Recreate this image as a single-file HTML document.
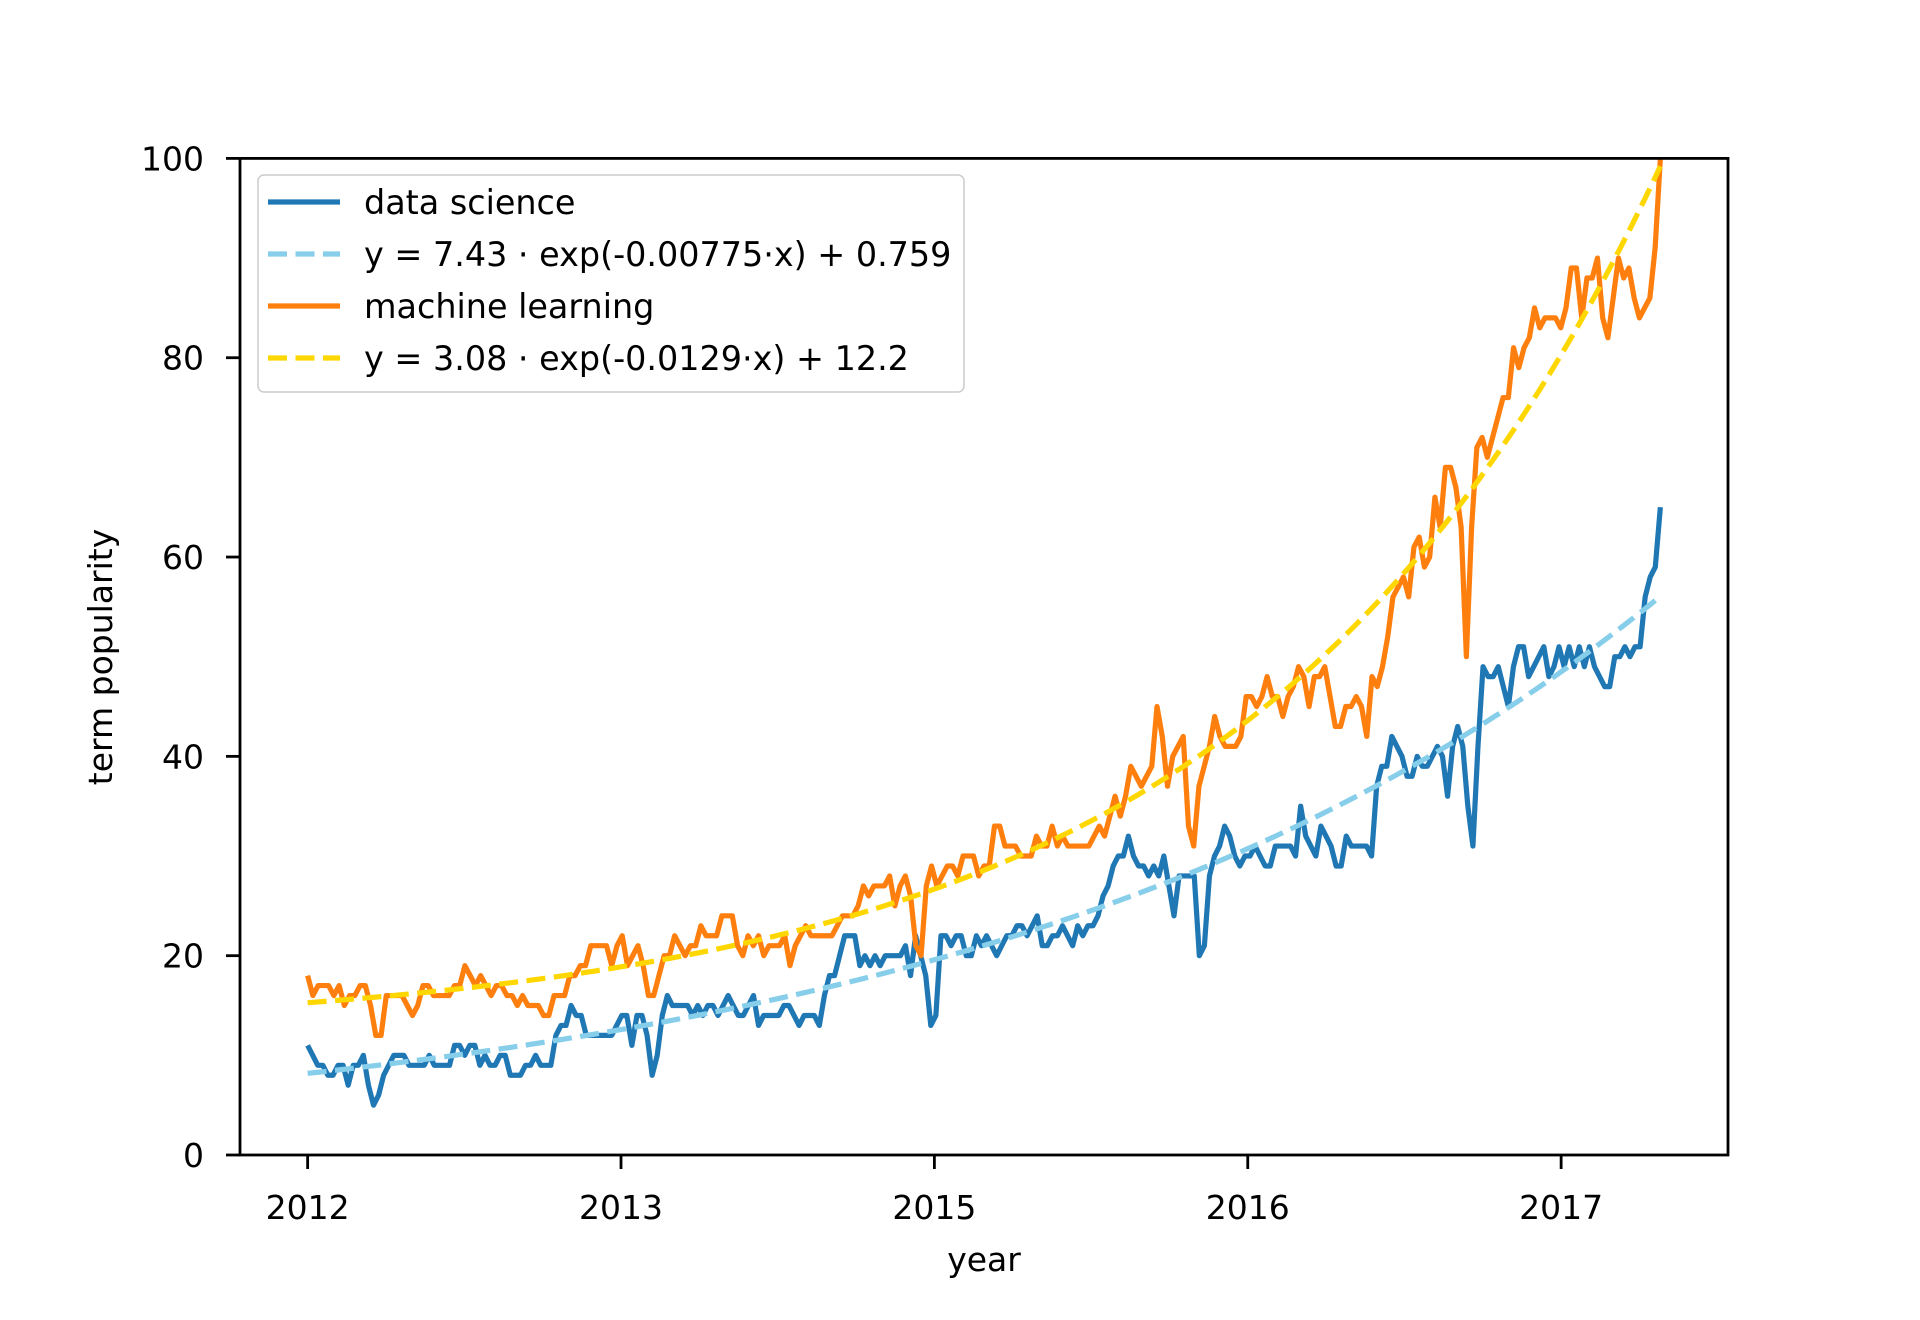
<!DOCTYPE html>
<html><head><meta charset="utf-8"><style>
html,body{margin:0;padding:0;background:#fff;}
svg{display:block;font-family:"DejaVu Sans","Liberation Sans",sans-serif;}
</style></head><body>
<svg id="chart" width="1920" height="1320" viewBox="0 0 1920 1320" xmlns="http://www.w3.org/2000/svg">
<rect width="1920" height="1320" fill="#fff"/>
<g id="plot"></g>
<g id="axes"></g>
<g>
<rect x="258" y="175" width="706" height="217" rx="6" fill="#fff" fill-opacity="0.8" stroke="#ccc" stroke-width="1.5"/>
<line x1="268" y1="202" x2="340" y2="202" stroke="#1f77b4" stroke-width="5.2"/>
<text x="364" y="214" font-size="33.4">data science</text>
<line x1="268" y1="254" x2="340" y2="254" stroke="#87ceeb" stroke-width="5.2" stroke-dasharray="19,8.5"/>
<text x="364" y="266" font-size="33.4">y = 7.43 · exp(-0.00775·x) + 0.759</text>
<line x1="268" y1="306" x2="340" y2="306" stroke="#ff7f0e" stroke-width="5.2"/>
<text x="364" y="318" font-size="33.4">machine learning</text>
<line x1="268" y1="358" x2="340" y2="358" stroke="#ffd700" stroke-width="5.2" stroke-dasharray="19,8.5"/>
<text x="364" y="370" font-size="33.4">y = 3.08 · exp(-0.0129·x) + 12.2</text>
</g>
<text x="984" y="1271" font-size="33" text-anchor="middle">year</text>
<text x="0" y="0" font-size="33" text-anchor="middle" transform="translate(112,657) rotate(-90)">term popularity</text>
</svg>
<script>
const dataScience = [11,10,9,9,8,8,9,9,7,9,9,10,7,5,6,8,9,10,10,10,9,9,9,9,10,9,9,9,9,11,11,10,11,11,9,10,9,9,10,10,8,8,8,9,9,10,9,9,9,12,13,13,15,14,14,12,12,12,12,12,12,13,14,14,11,14,14,12,8,10,14,16,15,15,15,15,14,15,14,15,15,14,15,16,15,14,14,15,16,13,14,14,14,14,15,15,14,13,14,14,14,13,16,18,18,20,22,22,22,19,20,19,20,19,20,20,20,20,21,18,22,20,18,13,14,22,22,21,22,22,20,20,22,21,22,21,20,21,22,22,23,23,22,23,24,21,21,22,22,23,22,21,23,22,23,23,24,26,27,29,30,30,32,30,29,29,28,29,28,30,27,24,28,28,28,28,20,21,28,30,31,33,32,30,29,30,30,31,30,29,29,31,31,31,31,30,35,32,31,30,33,32,31,29,29,32,31,31,31,31,30,37,39,39,42,41,40,38,38,40,39,39,40,41,40,36,41,43,41,35,31,41,49,48,48,49,47,45,49,51,51,48,49,50,51,48,49,51,49,51,49,51,49,51,49,48,47,47,50,50,51,50,51,51,56,58,59,65];
const machineLearning = [18,16,17,17,17,16,17,15,16,16,17,17,15,12,12,16,16,16,16,15,14,15,17,17,16,16,16,16,17,17,19,18,17,18,17,16,17,17,16,16,15,16,15,15,15,14,14,16,16,16,18,18,19,19,21,21,21,21,19,21,22,19,20,21,19,16,16,18,20,20,22,21,20,21,21,23,22,22,22,24,24,24,21,20,22,21,22,20,21,21,21,22,19,21,22,23,22,22,22,22,22,23,24,24,24,25,27,26,27,27,27,28,25,27,28,26,21,20,27,29,27,28,29,29,28,30,30,30,28,29,29,33,33,31,31,31,30,30,30,32,31,31,33,31,32,31,31,31,31,31,32,33,32,34,36,34,36,39,38,37,38,39,45,42,37,40,41,42,33,31,37,39,41,44,42,41,41,41,42,46,46,45,46,48,46,46,44,46,47,49,48,45,48,48,49,46,43,43,45,45,46,45,42,48,47,49,52,56,57,58,56,61,62,59,60,66,63,69,69,67,63,50,63,71,72,70,72,74,76,76,81,79,81,82,85,83,84,84,84,83,85,89,89,84,88,88,90,84,82,86,90,88,89,86,84,85,86,91,100];
const dsFit = [7.43, 0.00775, 0.759];
const mlFit = [3.08, 0.0129, 12.2];
const xTickValues = [0, 60, 120, 180, 240];
const xTickLabels = ["2012", "2013", "2015", "2016", "2017"];
const yTickValues = [0, 20, 40, 60, 80, 100];
const xLast = 259;

const L=240,R=1728,T=158.4,B=1155;
const xMin=-0.05*xLast, xMax=xLast*1.05;
const xs=v=>L+(v-xMin)/(xMax-xMin)*(R-L);
const ys=v=>B-v/100*(B-T);
const NS="http://www.w3.org/2000/svg";
const plot=document.getElementById('plot'), axes=document.getElementById('axes');
function mk(tag,attrs,parent){const e=document.createElementNS(NS,tag);for(const k in attrs)e.setAttribute(k,attrs[k]);parent.appendChild(e);return e;}
const clip=mk('clipPath',{id:'clp'},plot);mk('rect',{x:L,y:T-3,width:R-L,height:B-T+3},clip);
function seriesPath(arr){const n=arr.length;return arr.map((v,i)=>(i?'L':'M')+xs(i*xLast/(n-1)).toFixed(2)+','+ys(v).toFixed(2)).join('');}
function fitPath(p){let d='';for(let x=0;x<=xLast;x++){d+=(x?'L':'M')+xs(x).toFixed(2)+','+ys(p[0]*Math.exp(p[1]*x)+p[2]).toFixed(2);}return d;}
const g=mk('g',{'clip-path':'url(#clp)'},plot);
let p=mk('path',{d:seriesPath(dataScience),fill:'none',stroke:'#1f77b4','stroke-width':5.2,'stroke-linejoin':'round'},g);


p=mk('path',{d:fitPath(dsFit),fill:'none',stroke:'#87ceeb','stroke-width':5.2,'stroke-dasharray':'19,8.5'},g);


p=mk('path',{d:seriesPath(machineLearning),fill:'none',stroke:'#ff7f0e','stroke-width':5.2,'stroke-linejoin':'round'},g);


p=mk('path',{d:fitPath(mlFit),fill:'none',stroke:'#ffd700','stroke-width':5.2,'stroke-dasharray':'19,8.5'},g);


const frame=mk('rect',{x:L,y:T,width:R-L,height:B-T,fill:'none',stroke:'#000','stroke-width':2.8},axes);


xTickValues.forEach((v,i)=>{const x=xs(v);
 mk('line',{x1:x,y1:B,x2:x,y2:B+14,stroke:'#000','stroke-width':2.8},axes);
 const t=mk('text',{x:x,y:B+64,'font-size':33,'text-anchor':'middle'},axes);t.textContent=xTickLabels[i];
 
 });
yTickValues.forEach(v=>{const y=ys(v);
 mk('line',{x1:L-14,y1:y,x2:L,y2:y,stroke:'#000','stroke-width':2.8},axes);
 const t=mk('text',{x:L-36,y:y+12,'font-size':33,'text-anchor':'end'},axes);t.textContent=String(v);
 
 });
</script>
</body></html>
